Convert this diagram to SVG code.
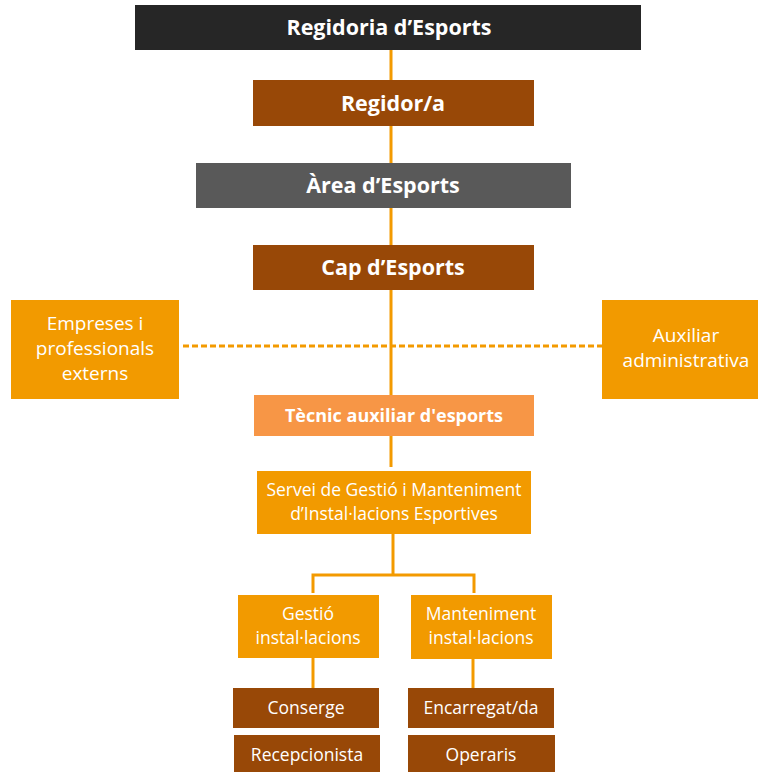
<svg xmlns="http://www.w3.org/2000/svg" width="758" height="772" viewBox="0 0 758 772">
<style>
text{font-family:"Open Sans","Noto Sans","Liberation Sans",sans-serif;fill:#fff;text-anchor:middle}
.b{font-weight:bold;font-size:21.5px}
.m{font-size:19px}
.s{font-size:17.5px}
.line{stroke:#f39a00;stroke-width:3;fill:none}
</style>
<rect width="758" height="772" fill="#fff"/>
<g id="connectors">
<line class="line" x1="391" y1="50" x2="391" y2="467"/>
<line class="line" x1="183" y1="346" x2="602" y2="346" stroke-dasharray="6,3" stroke-width="2"/>
<line class="line" x1="393" y1="534" x2="393" y2="575"/>
<polyline class="line" points="313,593 313,575 474,575 474,593"/>
<line class="line" x1="313" y1="658" x2="313" y2="688"/>
<line class="line" x1="473" y1="659" x2="473" y2="688"/>
</g>
<g id="regidoria"><rect x="135" y="5" width="506" height="45" fill="#262626"/><text class="b" x="389" y="35">Regidoria d’Esports</text></g>
<g id="regidor"><rect x="253" y="80" width="281" height="46" fill="#984807"/><text class="b" x="393" y="111">Regidor/a</text></g>
<g id="area"><rect x="196" y="163" width="375" height="45" fill="#595959"/><text class="b" x="383" y="193">Àrea d’Esports</text></g>
<g id="cap"><rect x="253" y="245" width="281" height="45" fill="#984807"/><text class="b" x="393" y="275">Cap d’Esports</text></g>
<g id="empreses"><rect x="11" y="300" width="168" height="99" fill="#f29a00"/><text class="m" x="95" y="330">Empreses i</text><text class="m" x="95" y="355">professionals</text><text class="m" x="95" y="380">externs</text></g>
<g id="auxiliar"><rect x="602" y="300" width="156" height="99" fill="#f29a00"/><text class="m" x="686" y="342">Auxiliar</text><text class="m" x="686" y="367">administrativa</text></g>
<g id="tecnic"><rect x="254" y="395" width="280" height="41" fill="#f79646"/><text x="394" y="422" font-weight="bold" font-size="18">Tècnic auxiliar d'esports</text></g>
<g id="servei"><rect x="257" y="471" width="274" height="63" fill="#f29a00"/><text class="s" x="394" y="496">Servei de Gestió i Manteniment</text><text class="s" x="394" y="520">d’Instal·lacions Esportives</text></g>
<g id="gestio"><rect x="238" y="595" width="141" height="63" fill="#f29a00"/><text class="s" x="308" y="620">Gestió</text><text class="s" x="308" y="644">instal·lacions</text></g>
<g id="manteniment"><rect x="411" y="595" width="141" height="64" fill="#f29a00"/><text class="s" x="481" y="620">Manteniment</text><text class="s" x="481" y="644">instal·lacions</text></g>
<g id="conserge"><rect x="233" y="688" width="146" height="40" fill="#984807"/><text class="s" x="306" y="714">Conserge</text></g>
<g id="recepcionista"><rect x="234" y="735" width="146" height="37" fill="#984807"/><text class="s" x="307" y="761">Recepcionista</text></g>
<g id="encarregat"><rect x="408" y="688" width="146" height="40" fill="#984807"/><text class="s" x="481" y="714">Encarregat/da</text></g>
<g id="operaris"><rect x="408" y="735" width="147" height="37" fill="#984807"/><text class="s" x="481" y="761">Operaris</text></g>
</svg>
